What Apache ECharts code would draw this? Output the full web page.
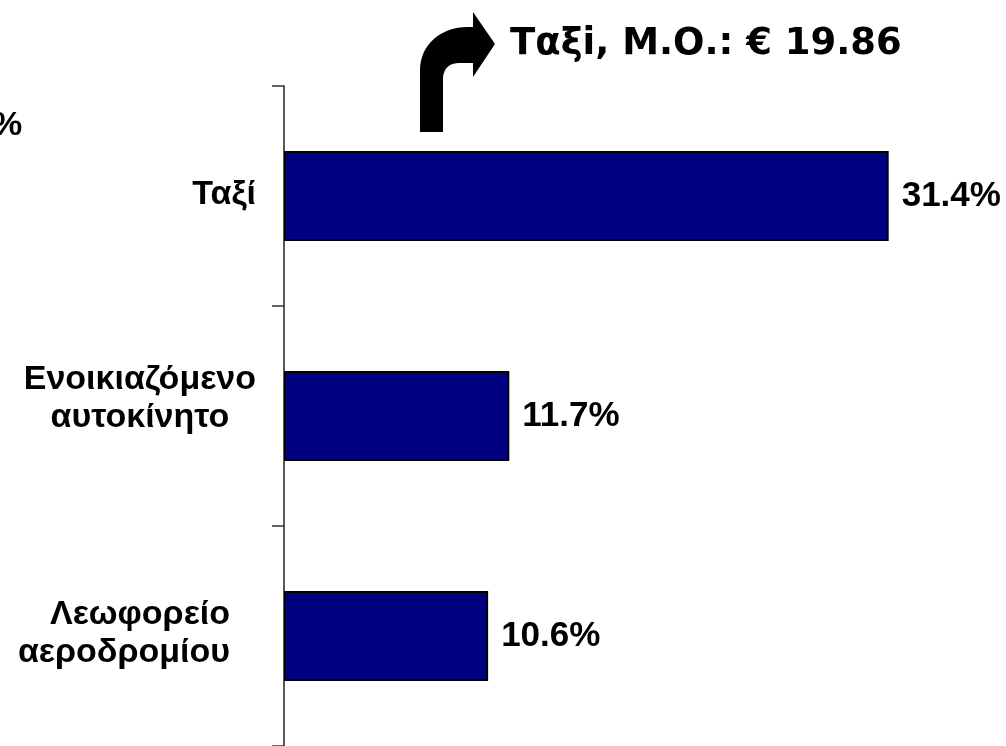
<!DOCTYPE html>
<html>
<head>
<meta charset="utf-8">
<script src="https://cdn.jsdelivr.net/npm/echarts@6/dist/echarts.min.js"></script>
<style>
html,body{margin:0;padding:0;background:#fff;}
#chart{width:1006px;height:746px;}
</style>
</head>
<body>
<div id="chart"></div>
<script>
var categories = ['Ταξί', 'Ενοικιαζόμενο\nαυτοκίνητο', 'Λεωφορείο\nαεροδρομίου'];
var shares = [31.4, 11.7, 10.6];
var calloutText = 'Ταξi, Μ.Ο.: € 19.86';
var axisUnit = '%';

// label box paddings (layout only) per category
var labelPads = [[0, 0, 2, 0], [0, 0, 34, 0], [0, 26, 5, 0]];

function cubic(p0, p1, p2, p3, n) {
  var pts = [];
  for (var k = 1; k <= n; k++) {
    var t = k / n, u = 1 - t;
    pts.push([
      u*u*u*p0[0] + 3*u*u*t*p1[0] + 3*u*t*t*p2[0] + t*t*t*p3[0],
      u*u*u*p0[1] + 3*u*u*t*p1[1] + 3*u*t*t*p2[1] + t*t*t*p3[1]
    ]);
  }
  return pts;
}
function arrowPoints() {
  var pts = [[420, 132], [420, 70]];
  pts = pts.concat(cubic([420, 70], [420, 44], [442, 27], [467, 27], 16));
  pts.push([473, 27], [473, 12], [495, 44], [473, 77], [473, 63], [459, 63]);
  pts = pts.concat(cubic([459, 63], [449, 63], [443, 69], [443, 79], 10));
  pts.push([443, 132]);
  return pts;
}

var chart = echarts.init(document.getElementById('chart'), null, {renderer: 'canvas'});
var labelFont = 'Liberation Sans, Arial, sans-serif';
var yData = categories.map(function (c, i) {
  return {value: c, textStyle: {padding: labelPads[i]}};
});
var option = {
  animation: false,
  backgroundColor: '#ffffff',
  grid: {left: 284, right: 48, top: 86, bottom: -5, containLabel: false},
  xAxis: {
    type: 'value', min: 0, max: 35, show: false
  },
  yAxis: {
    type: 'category',
    inverse: true,
    data: yData,
    axisLine: {show: true, lineStyle: {color: '#222', width: 1.5}},
    axisTick: {show: true, length: 12, lineStyle: {color: '#333', width: 1.5}},
    splitLine: {show: false},
    axisLabel: {
      margin: 28,
      formatter: function (v, i) {
        var st = i === 2 ? 'r' : 'c';
        return v.split('\n').map(function (l) { return '{' + st + '|' + l + '}'; }).join('\n');
      },
      rich: {
        c: {fontSize: 34, fontWeight: 'bold', fontFamily: labelFont, color: '#000', align: 'center', lineHeight: 38},
        r: {fontSize: 34, fontWeight: 'bold', fontFamily: labelFont, color: '#000', align: 'right', lineHeight: 38}
      }
    }
  },
  series: [{
    type: 'bar',
    data: shares,
    barWidth: 90,
    itemStyle: {color: '#000080', borderColor: '#000', borderWidth: 2},
    label: {
      show: true, position: 'right', distance: 13,
      formatter: function (p) { return p.value.toFixed(1) + '%'; },
      fontSize: 35, fontWeight: 'bold', fontFamily: labelFont, color: '#000'
    }
  }],
  graphic: [
    {
      type: 'polygon',
      shape: {points: arrowPoints()},
      style: {fill: '#000'}
    },
    {
      type: 'text', x: 510, y: 44,
      style: {text: calloutText, fill: '#000', font: 'bold 37px "DejaVu Sans", Verdana, sans-serif', verticalAlign: 'middle'}
    },
    {
      type: 'text', x: -8, y: 126,
      style: {text: axisUnit, fill: '#000', font: 'bold 34px "Liberation Sans", Arial, sans-serif', verticalAlign: 'middle'}
    }
  ]
};
chart.setOption(option);
</script>
</body>
</html>
